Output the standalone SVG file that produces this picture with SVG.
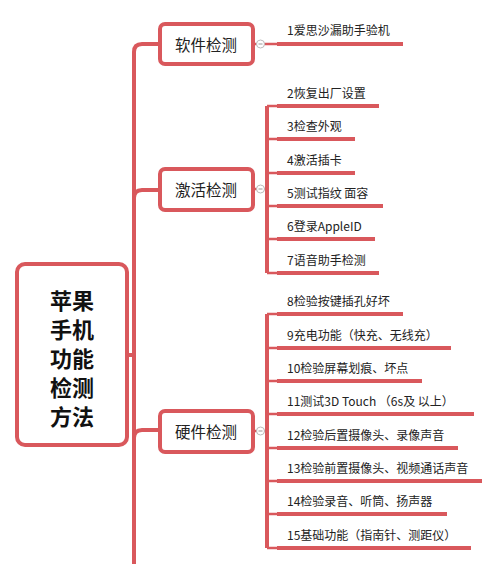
<svg xmlns="http://www.w3.org/2000/svg" width="500" height="564" viewBox="0 0 500 564">
<style>
.box{fill:#fff;stroke:#D9585C;stroke-width:4}
.ln{fill:none;stroke:#D9585C;stroke-width:4;stroke-linecap:butt}
.thin{fill:none;stroke:#D9585C;stroke-width:2.5}
.ul{stroke:#D9585C;stroke-width:4}
.col{fill:#fff;stroke:#bbb;stroke-width:1}
.cm{stroke:#999;stroke-width:1}
.t{font-family:"Noto Sans CJK SC","Microsoft YaHei",sans-serif;fill:#222}
.root{font-size:22px;font-weight:bold;fill:#111;text-anchor:middle;dominant-baseline:central}
.n{font-size:15.5px;text-anchor:middle;dominant-baseline:central}
.lf{font-size:12px}
</style>
<rect width="500" height="564" fill="#fff"/>
<g id="connectors">
  <path class="ln" d="M160,44 H142 Q134,44 134,52 V564"/>
  <path class="ln" d="M134,198 Q134,190 142,190 H160"/>
  <path class="ln" d="M134,438 Q134,430 142,430 H160"/>
  <path class="ln" d="M127,355 H134"/>
  <path class="thin" d="M253,44 H257 M264,44 H277"/>
  <path class="thin" d="M253,189 H257 M264,189 H267"/>
  <path class="thin" d="M253,431 H257 M264,431 H267"/>
  <path class="ln" d="M267,106 V273"/>
  <path class="thin" d="M267,106 H277 M267,139 H277 M267,173 H277 M267,206 H277 M267,239 H277 M267,273 H277"/>
  <path class="ln" d="M267,314 V548"/>
  <path class="thin" d="M267,314 H277 M267,348 H277 M267,381 H277 M267,414 H277 M267,448 H277 M267,481 H277 M267,514 H277 M267,548 H277"/>
  <circle class="col" cx="260.5" cy="44" r="4"/><path class="cm" d="M258.5,44 H262.5"/>
  <circle class="col" cx="260.5" cy="189" r="4"/><path class="cm" d="M258.5,189 H262.5"/>
  <circle class="col" cx="260.5" cy="431" r="4"/><path class="cm" d="M258.5,431 H262.5"/>
</g>
<g id="root">
  <rect class="box" x="17" y="264" width="110" height="181" rx="8"/>
  <text class="t root" x="72" y="299">苹果</text>
  <text class="t root" x="72" y="328">手机</text>
  <text class="t root" x="72" y="357">功能</text>
  <text class="t root" x="72" y="386">检测</text>
  <text class="t root" x="72" y="415">方法</text>
</g>
<g id="software">
  <rect class="box" x="160" y="24" width="93" height="40" rx="5"/>
  <text class="t n" x="206" y="44">软件检测</text>
</g>
<g id="activate">
  <rect class="box" x="160" y="169" width="93" height="41" rx="5"/>
  <text class="t n" x="206" y="189">激活检测</text>
</g>
<g id="hardware">
  <rect class="box" x="160" y="411" width="93" height="41" rx="5"/>
  <text class="t n" x="206" y="431">硬件检测</text>
</g>
<g id="leaf1"><line class="ul" x1="277" y1="44" x2="403" y2="44"/><text class="t lf" x="287" y="35">1爱思沙漏助手验机</text></g>
<g id="leaf2"><line class="ul" x1="277" y1="106" x2="379" y2="106"/><text class="t lf" x="287" y="98">2恢复出厂设置</text></g>
<g id="leaf3"><line class="ul" x1="277" y1="139" x2="355" y2="139"/><text class="t lf" x="287" y="131">3检查外观</text></g>
<g id="leaf4"><line class="ul" x1="277" y1="173" x2="355" y2="173"/><text class="t lf" x="287" y="165">4激活插卡</text></g>
<g id="leaf5"><line class="ul" x1="277" y1="206" x2="383" y2="206"/><text class="t lf" x="287" y="198">5测试指纹 面容</text></g>
<g id="leaf6"><line class="ul" x1="277" y1="239" x2="375" y2="239"/><text class="t lf" x="287" y="231">6登录AppleID</text></g>
<g id="leaf7"><line class="ul" x1="277" y1="273" x2="379" y2="273"/><text class="t lf" x="287" y="265">7语音助手检测</text></g>
<g id="leaf8"><line class="ul" x1="277" y1="314" x2="403" y2="314"/><text class="t lf" x="287" y="306">8检验按键插孔好坏</text></g>
<g id="leaf9"><line class="ul" x1="277" y1="348" x2="451" y2="348"/><text class="t lf" x="287" y="340">9充电功能（快充、无线充）</text></g>
<g id="leaf10"><line class="ul" x1="277" y1="381" x2="422" y2="381"/><text class="t lf" x="287" y="373">10检验屏幕划痕、坏点</text></g>
<g id="leaf11"><line class="ul" x1="277" y1="414" x2="474" y2="414"/><text class="t lf" x="287" y="406">11测试3D Touch （6s及 以上）</text></g>
<g id="leaf12"><line class="ul" x1="277" y1="448" x2="458" y2="448"/><text class="t lf" x="287" y="440">12检验后置摄像头、录像声音</text></g>
<g id="leaf13"><line class="ul" x1="277" y1="481" x2="482" y2="481"/><text class="t lf" x="287" y="473">13检验前置摄像头、视频通话声音</text></g>
<g id="leaf14"><line class="ul" x1="277" y1="514" x2="447" y2="514"/><text class="t lf" x="287" y="506">14检验录音、听筒、扬声器</text></g>
<g id="leaf15"><line class="ul" x1="277" y1="548" x2="471" y2="548"/><text class="t lf" x="287" y="540">15基础功能（指南针、测距仪）</text></g>
</svg>
